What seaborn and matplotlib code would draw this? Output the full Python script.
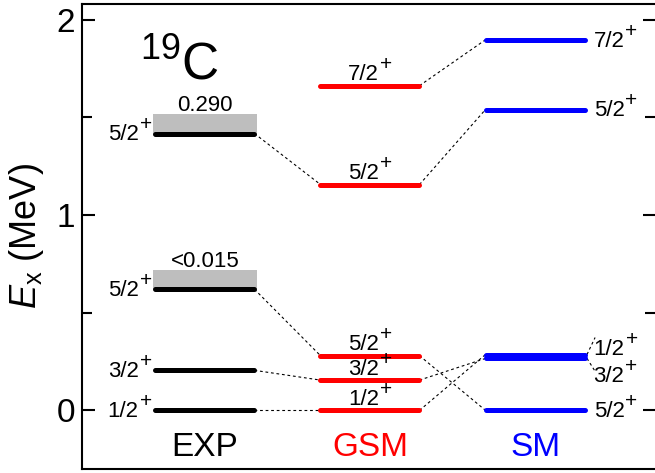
import matplotlib
matplotlib.use("Agg")
import matplotlib.pyplot as plt
from matplotlib.transforms import offset_copy
import numpy as np
import pandas as pd
import seaborn as sns

# ---------------- data ----------------
models = ["EXP", "GSM", "SM"]
model_colors = ["black", "red", "blue"]

exp_E = [0.0, 0.205, 0.62, 1.417]
exp_J = ["1/2", "3/2", "5/2", "5/2"]
exp_width_idx = [2, 3]
exp_width_labels = ["<0.015", "0.290"]

gsm_E = [0.0, 0.155, 0.28, 1.156, 1.662]
gsm_J = ["1/2", "3/2", "5/2", "5/2", "7/2"]

sm_E = [0.0, 0.286, 0.266, 1.54, 1.897]
sm_J = ["5/2", "1/2", "3/2", "5/2", "7/2"]

exp_to_gsm = [(0, 0), (1, 1), (2, 2), (3, 3)]
gsm_to_sm = [(0, 1), (1, 2), (2, 0), (3, 3), (4, 4)]

title_text = r"$^{19}$C"
ylabel_text = r"$E_{\rm x}$ (MeV)"
yticks_major = [0, 1, 2]
yticks_minor = [0.5, 1.5]

# ---------------- style ----------------
sns.set_style("ticks")
plt.rcParams["font.family"] = ["Liberation Sans", "DejaVu Sans"]
plt.rcParams["mathtext.fontset"] = "custom"
plt.rcParams["mathtext.rm"] = "Liberation Sans"
plt.rcParams["mathtext.it"] = "Liberation Sans:italic"
plt.rcParams["mathtext.bf"] = "Liberation Sans:bold"
for k in ["text.color", "axes.labelcolor", "xtick.color", "ytick.color", "axes.edgecolor"]:
    plt.rcParams[k] = "black"

fig = plt.figure(figsize=(6.55, 4.73), dpi=100)
ax = fig.add_axes([82 / 655, 4 / 473, 573 / 655, 465 / 473])
renderer = fig.canvas.get_renderer()

HW = 0.30  # half width of a level bar (data units)

all_E = [exp_E, gsm_E, sm_E]
rows = []
for mi, (m, Es) in enumerate(zip(models, all_E)):
    for k, e in enumerate(Es):
        for side in (-1, 1):
            rows.append(dict(x=mi + side * HW, E=e, model=m, uid=f"{m}_{k}"))
df = pd.DataFrame(rows)

# gray width boxes for experimental levels
for idx, lab in zip(exp_width_idx, exp_width_labels):
    e = exp_E[idx]
    ax.fill_between([-HW - 0.015, HW + 0.015], e, e + 0.1, color="#bebebe", lw=0, zorder=2)
    ax.text(0, e + 0.115, lab, ha="center", va="baseline", fontsize=16, zorder=4)

sns.lineplot(data=df, x="x", y="E", hue="model", units="uid", estimator=None,
             palette=dict(zip(models, model_colors)), lw=3.6, solid_capstyle="round",
             legend=False, sort=False, ax=ax, zorder=3)

# connectors
dash_kw = dict(color="black", lw=0.8, dashes=(2.5, 2.5), zorder=1)
for a, b in exp_to_gsm:
    ax.plot([HW, 1 - HW], [exp_E[a], gsm_E[b]], **dash_kw)
for a, b in gsm_to_sm:
    ax.plot([1 + HW, 2 - HW], [gsm_E[a], sm_E[b]], **dash_kw)


def level_label(x, y, j, ha, size=16, sup_size=15, raise_px=10, gap=1):
    t = ax.text(x, y, j, ha="left", va="baseline", fontsize=size)
    p = ax.text(x, y, "+", ha="left", va="baseline", fontsize=sup_size)
    wt = t.get_window_extent(renderer).width
    wp = p.get_window_extent(renderer).width
    total = wt + gap + wp
    dx0 = {"left": 0.0, "center": -total / 2, "right": -total}[ha]
    t.set_transform(offset_copy(ax.transData, x=dx0, y=0, units="dots"))
    p.set_transform(offset_copy(ax.transData, x=dx0 + wt + gap, y=raise_px, units="dots"))


# level labels
for e, j in zip(exp_E, exp_J):
    level_label(-0.322, e - 0.035, j, "right")
for e, j in zip(gsm_E, gsm_J):
    level_label(1.0, e + 0.028, j, "center")
sm_label_dy = [-0.035, 0.0, -0.123, -0.035, -0.035]
for e, j, dy in zip(sm_E, sm_J, sm_label_dy):
    level_label(2.355, e + dy, j, "left")
# short leader lines for the SM doublet
ax.plot([2 + HW + 0.015, 2.364], [sm_E[1], 0.373], **dash_kw)
ax.plot([2 + HW + 0.015, 2.364], [sm_E[2], 0.20], **dash_kw)

# model names
for mi, (m, c) in enumerate(zip(models, model_colors)):
    ax.text(mi, -0.235, m, ha="center", va="baseline", fontsize=24, color=c)

# nucleus label
ax.text(-0.394, 1.693, title_text, ha="left", va="baseline", fontsize=37)

# axes
ax.set_xlim(-0.745, 2.727)
ax.set_ylim(-0.3, 2.08)
ax.set_yticks(yticks_major)
ax.set_yticks(yticks_minor, minor=True)
ax.set_yticklabels([str(t) for t in yticks_major], fontsize=24)
ax.set_xticks([])
ax.set_xlabel("")
ax.set_ylabel(ylabel_text, fontsize=26)
ax.yaxis.set_label_coords(-0.062, 0.5)
ax.tick_params(axis="y", which="major", direction="in", length=9, width=1.5,
               left=True, right=True, pad=5)
ax.tick_params(axis="y", which="minor", direction="in", length=7, width=1.5,
               left=True, right=True)
for s in ["left", "top", "bottom"]:
    ax.spines[s].set_linewidth(1.5)
    ax.spines[s].set_color("black")
ax.spines["right"].set_visible(False)

fig.savefig("out.png", dpi=100)
